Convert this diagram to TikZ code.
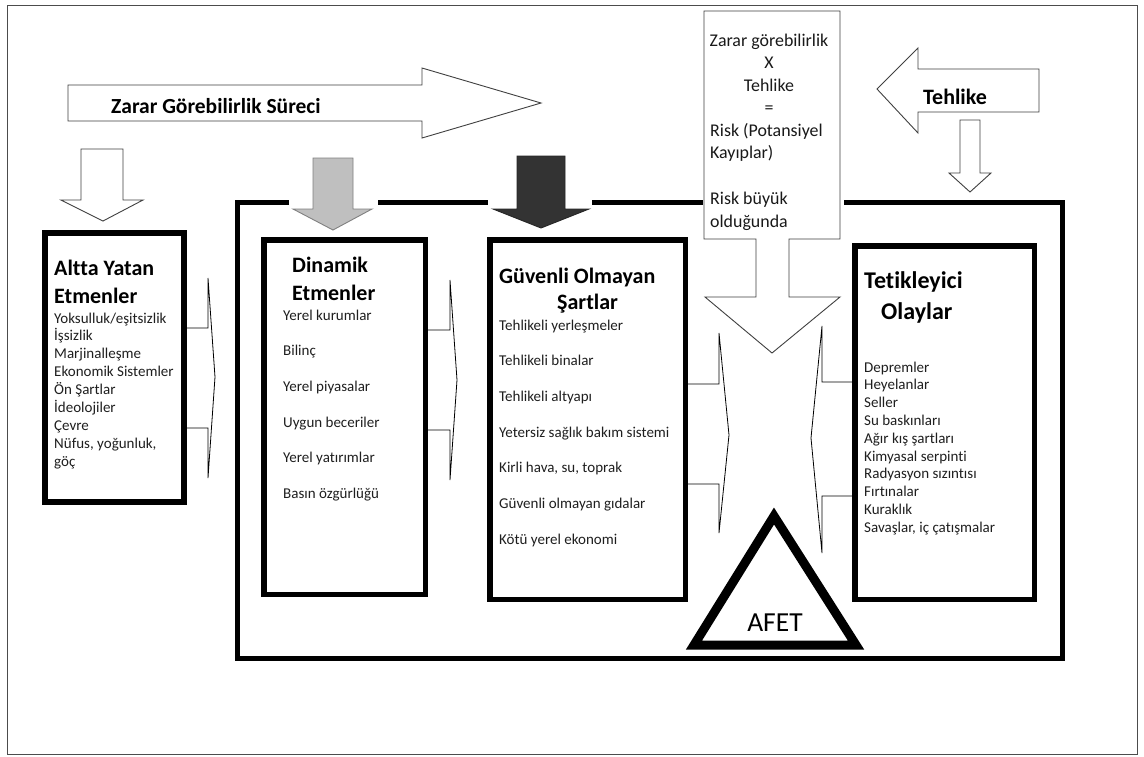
\documentclass[tikz,border=0pt]{standalone}
\usepackage{fontspec}
\setmainfont{Carlito}[Ligatures={NoCommon}]
\begin{document}
\begin{tikzpicture}[x=1pt,y=-1pt,
  blk/.style={draw=black!75, line width=0.9pt, fill=white, line join=miter},
  thinarrow/.style={draw=black, line width=0.8pt, fill=white, line join=miter},
  tbox/.style={draw=black, line width=5.5pt, fill=white, inner sep=0pt, outer sep=0pt, anchor=north west},
  item/.style={font=\fontsize{15}{18}\selectfont, anchor=base west, inner sep=0pt, text=black!88},
  ttl/.style={font=\bfseries\fontsize{22}{26}\selectfont, anchor=base west, inner sep=0pt},
  risktxt/.style={font=\fontsize{17.9}{21}\selectfont, inner sep=0pt, text=black!90},
  frameline/.style={draw=black, line width=5pt, line join=miter}]
\useasboundingbox (0,0) rectangle (1144,756);
\fill[white] (0,0) rectangle (1144,756);
\draw[black!70, line width=1pt] (7,5) rectangle (1137,754);

% inner frame
\draw[frameline] (289,202) -- (237,202) -- (237,658) -- (1062,658) -- (1062,202) -- (844,202);
\draw[frameline] (378,202) -- (488,202);
\draw[frameline] (592,202) -- (703,202);

% big process arrow
\draw[blk] (68,85) -- (422,85) -- (422,68) -- (541,103) -- (422,138) -- (422,121) -- (68,121) -- cycle;
\node[font=\bfseries\fontsize{21.5}{24}\selectfont, anchor=base west, inner sep=0pt] (surec) at (111,113) {Zarar Görebilirlik Süreci};

% down arrows
\draw[blk] (81,149) -- (123,149) -- (123,200) -- (143,200) -- (103,221) -- (61,200) -- (81,200) -- cycle;
\draw[draw=black!50, fill=black!25, line width=0.9pt] (313,158) -- (353,158) -- (353,209) -- (372,209) -- (333,230) -- (293,209) -- (313,209) -- cycle;
\draw[draw=black!85, fill=black!80, line width=0.9pt] (517,156) -- (565,156) -- (565,209) -- (589,209) -- (541,228) -- (493,209) -- (517,209) -- cycle;

% Tehlike arrow
\draw[blk] (1039,69) -- (1039,112) -- (918,112) -- (918,133) -- (877,89) -- (918,48) -- (918,69) -- cycle;
\node[font=\bfseries\fontsize{22}{25}\selectfont, anchor=base west, inner sep=0pt] (tehlike) at (923,104) {Tehlike};
\draw[blk] (960,120) -- (980,120) -- (980,173) -- (991,173) -- (970,192) -- (949,173) -- (960,173) -- cycle;

% risk arrow
\draw[blk] (704,11) -- (840,11) -- (840,239) -- (789,239) -- (789,297) -- (840,297) -- (772,353) -- (705,297) -- (756,297) -- (756,239) -- (704,239) -- cycle;
\node[risktxt, anchor=base] (r1) at (769,46) {Zarar görebilirlik};
\node[risktxt, anchor=base] (r2) at (769,68) {X};
\node[risktxt, anchor=base] (r3) at (769,91) {Tehlike};
\node[risktxt, anchor=base] (r4) at (769,113) {=};
\node[risktxt, anchor=base west] (r5) at (710,136) {Risk (Potansiyel};
\node[risktxt, anchor=base west] (r6) at (710,158) {Kayıplar)};
\node[risktxt, anchor=base west] (r7) at (710,204) {Risk büyük};
\node[risktxt, anchor=base west] (r8) at (710,227) {olduğunda};

% thin connecting arrows
\draw[thinarrow] (187,328) -- (208,328) -- (208,278) -- (215,377) -- (208,478) -- (208,428) -- (187,428);
\draw[thinarrow] (428,330) -- (450,330) -- (450,280) -- (457,380) -- (450,480) -- (450,430) -- (428,430);
\draw[thinarrow] (688,384) -- (719,384) -- (719,333) -- (729,435) -- (719,533) -- (719,484) -- (688,484);
\draw[thinarrow] (853,382) -- (822,382) -- (822,326) -- (811,438) -- (822,553) -- (822,496) -- (853,496);

% boxes
\node[tbox, minimum width=139pt, minimum height=269pt] (altta) at (45,233) {};
\node[tbox, minimum width=161.5pt, minimum height=354.5pt] (dinamik) at (263.75,239.75) {};
\node[tbox, minimum width=195.5pt, minimum height=359.5pt] (guvenli) at (489.75,239.75) {};
\node[tbox, minimum width=179.5pt, minimum height=353.5pt] (tetik) at (854.75,245.75) {};

% Altta
\node[ttl] (a-t1) at (54,275) {Altta Yatan};
\node[ttl] (a-t2) at (54,303) {Etmenler};
\foreach \t [count=\i from 0] in {Yoksulluk/eşitsizlik, İşsizlik, Marjinalleşme, Ekonomik Sistemler, Ön Şartlar, İdeolojiler, Çevre, {Nüfus, yoğunluk,}, göç}
  \node[item] (a\i) at (54,323+17.9*\i) {\t};

% Dinamik
\node[ttl] (d-t1) at (292,272) {Dinamik};
\node[ttl] (d-t2) at (292,300) {Etmenler};
\foreach \t [count=\i from 0] in {Yerel kurumlar, Bilinç, Yerel piyasalar, Uygun beceriler, Yerel yatırımlar, Basın özgürlüğü}
  \node[item] (d\i) at (283,320+35.7*\i) {\t};

% Guvenli
\node[ttl] (g-t1) at (499,283) {Güvenli Olmayan};
\node[ttl] (g-t2) at (557,309) {Şartlar};
\foreach \t [count=\i from 0] in {Tehlikeli yerleşmeler, Tehlikeli binalar, Tehlikeli altyapı, Yetersiz sağlık bakım sistemi, {Kirli hava, su, toprak}, Güvenli olmayan gıdalar, Kötü yerel ekonomi}
  \node[item] (g\i) at (499,330+35.7*\i) {\t};

% Tetikleyici
\node[ttl, font=\bfseries\fontsize{24}{28}\selectfont] (t-t1) at (864,288) {Tetikleyici};
\node[ttl, font=\bfseries\fontsize{24}{28}\selectfont] (t-t2) at (881,319) {Olaylar};
\foreach \t [count=\i from 0] in {Depremler, Heyelanlar, Seller, Su baskınları, Ağır kış şartları, Kimyasal serpinti, Radyasyon sızıntısı, Fırtınalar, Kuraklık, {Savaşlar, iç çatışmalar}}
  \node[item] (t\i) at (864,372+17.8*\i) {\t};

% AFET triangle
\draw[draw=black, fill=white, line width=9pt, line join=miter] (694,645) -- (856,645) -- (774,516) -- cycle;
\node[font=\fontsize{27.5}{30}\selectfont, anchor=base, inner sep=0pt] (afet) at (775,631) {AFET};
\end{tikzpicture}
\end{document}
